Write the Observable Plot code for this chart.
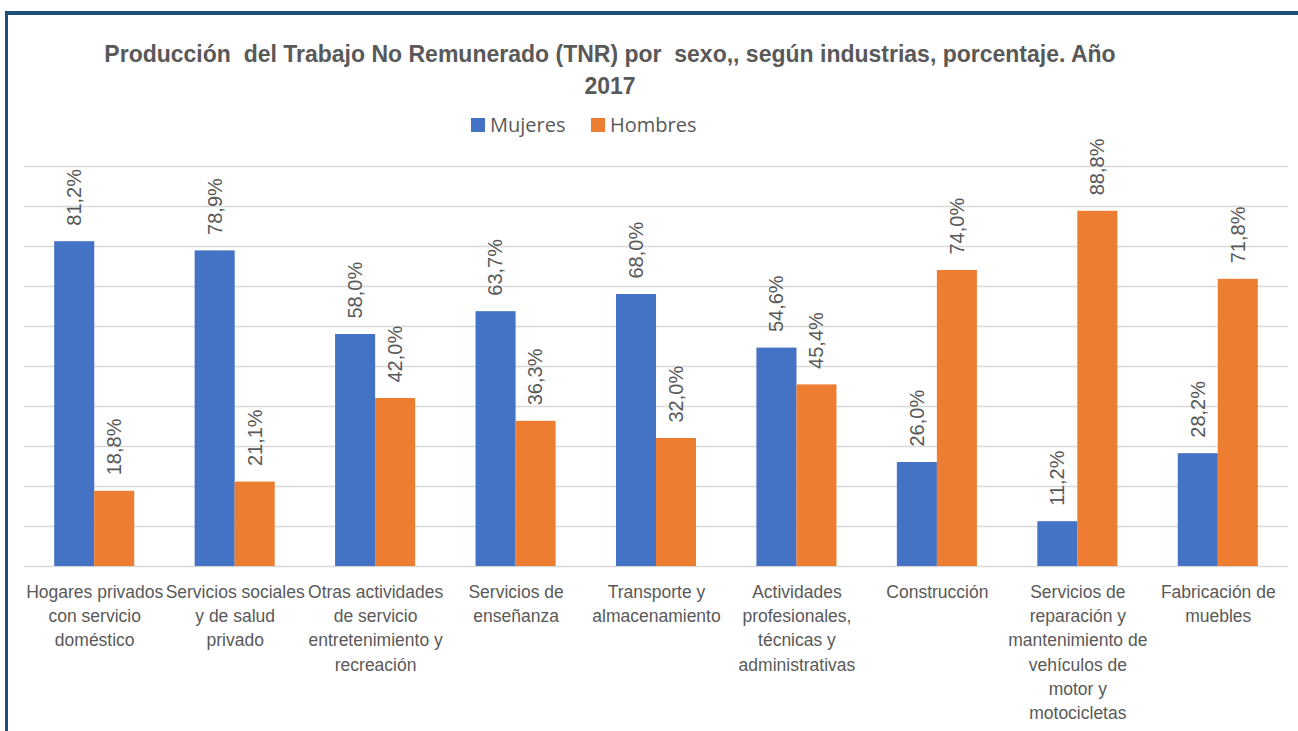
<!DOCTYPE html>
<html>
<head>
<meta charset="utf-8">
<script src="https://cdn.jsdelivr.net/npm/d3@7"></script>
<script src="https://cdn.jsdelivr.net/npm/@observablehq/plot@0.6"></script>
<style>
  html, body { margin: 0; padding: 0; background: #fff; }
  body { width: 1298px; height: 731px; overflow: hidden; position: relative; font-family: "Liberation Sans", Arial, sans-serif; }
  #frame { position: absolute; left: 5px; top: 11px; width: 1400px; height: 800px; border-top: 4px solid #1f4e79; border-left: 3px solid #1f4e79; box-sizing: border-box; }
  #title { position: absolute; left: 0; top: 38px; width: 1220px; text-align: center; font-weight: bold; font-size: 23px; line-height: 32px; color: #595959; }
  #legend { position: absolute; top: 111px; left: 0; width: 1298px; height: 28px; font-family: "Open Sans", sans-serif; font-size: 20px; color: #595959; }
  .sw { position: absolute; top: 7px; width: 14px; height: 14px; }
  .lt { position: absolute; top: 0; line-height: 28px; }
  #chart { position: absolute; left: 0; top: 130px; }
  #chart svg { overflow: visible; }
</style>
</head>
<body>
<div id="frame"></div>
<div id="title">Producción&nbsp; del Trabajo No Remunerado (TNR) por&nbsp; sexo,, según industrias, porcentaje. Año<br>2017</div>
<div id="legend">
  <div class="sw" style="left:471px;background:#4472c4"></div><div class="lt" style="left:490px">Mujeres</div>
  <div class="sw" style="left:591px;background:#ed7d31"></div><div class="lt" style="left:610px">Hombres</div>
</div>
<div id="chart"></div>
<script>
const categories = [
  "Hogares privados con servicio doméstico",
  "Servicios sociales y de salud privado",
  "Otras actividades de servicio entretenimiento y recreación",
  "Servicios de enseñanza",
  "Transporte y almacenamiento",
  "Actividades profesionales, técnicas y administrativas",
  "Construcción",
  "Servicios de reparación y mantenimiento de vehículos de motor y motocicletas",
  "Fabricación de muebles"
];
const tickLabels = [
  "Hogares privados\ncon servicio\ndoméstico",
  "Servicios sociales\ny de salud\nprivado",
  "Otras actividades\nde servicio\nentretenimiento y\nrecreación",
  "Servicios de\nenseñanza",
  "Transporte y\nalmacenamiento",
  "Actividades\nprofesionales,\ntécnicas y\nadministrativas",
  "Construcción",
  "Servicios de\nreparación y\nmantenimiento de\nvehículos de\nmotor y\nmotocicletas",
  "Fabricación de\nmuebles"
];
const mujeres = [81.2, 78.9, 58.0, 63.7, 68.0, 54.6, 26.0, 11.2, 28.2];
const hombres = [18.8, 21.1, 42.0, 36.3, 32.0, 45.4, 74.0, 88.8, 71.8];
const gridValues = [0, 10, 20, 30, 40, 50, 60, 70, 80, 90, 100];

const rowsM = categories.map((c, i) => ({industria: c, sexo: "Mujeres", valor: mujeres[i]}));
const rowsH = categories.map((c, i) => ({industria: c, sexo: "Hombres", valor: hombres[i]}));
const fmt = v => d3.format(".1f")(v).replace(".", ",") + "%";
const textColor = "#595959";

const chart = Plot.plot({
  width: 1298,
  height: 601,
  marginTop: 36,
  marginBottom: 165,
  marginLeft: 24,
  marginRight: 10,
  style: {fontFamily: "'Liberation Sans', Arial, sans-serif", color: textColor, background: "transparent", overflow: "visible"},
  x: {domain: categories, paddingInner: 0.43, paddingOuter: 0.215, round: false, axis: null},
  y: {domain: [0, 100], axis: null},
  marks: [
    Plot.ruleY(gridValues, {stroke: "#d9d9d9", strokeWidth: 1.5}),
    Plot.barY(rowsM, {x: "industria", y: "valor", fill: "#4472c4", insetRight: 40}),
    Plot.barY(rowsH, {x: "industria", y: "valor", fill: "#ed7d31", insetLeft: 40}),
    Plot.text(rowsM, {x: "industria", y: "valor", text: d => fmt(d.valor), rotate: -90, textAnchor: "start", dx: -20, dy: -16, fontSize: 20, fill: textColor}),
    Plot.text(rowsH, {x: "industria", y: "valor", text: d => fmt(d.valor), rotate: -90, textAnchor: "start", dx: 20, dy: -16, fontSize: 20, fill: textColor}),
    Plot.axisX({tickSize: 0, tickPadding: 14, fontSize: 17.5, lineHeight: 1.39, fill: textColor, label: null,
      tickFormat: d => tickLabels[categories.indexOf(d)]})
  ]
});
document.getElementById("chart").appendChild(chart);
</script>
</body>
</html>
